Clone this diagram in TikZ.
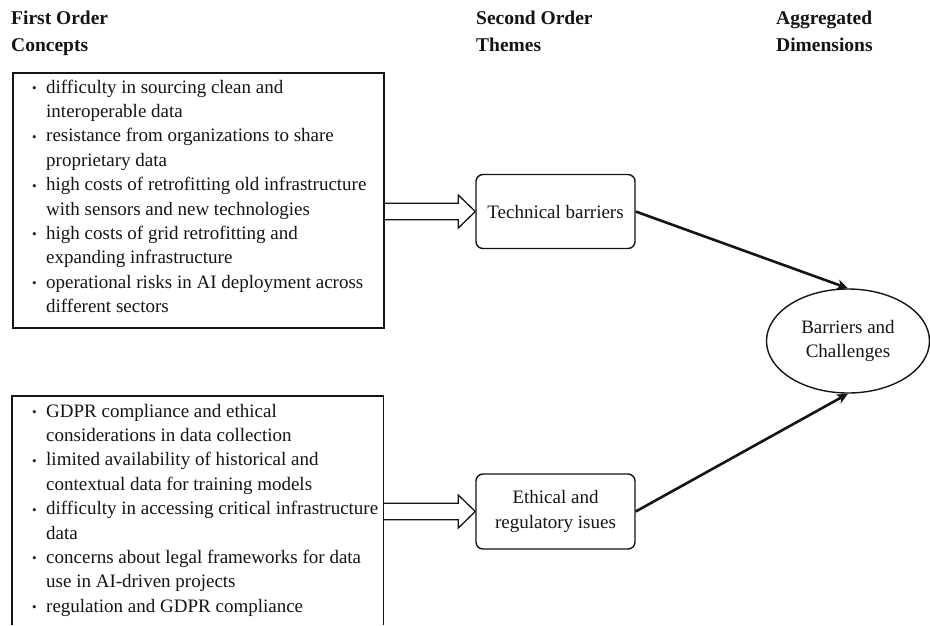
\documentclass[tikz,border=0pt]{standalone}
\usepackage{fontspec}
\setmainfont{Liberation Serif}
\usetikzlibrary{arrows.meta,shapes.geometric,calc}

\definecolor{ink}{HTML}{141414}

\newcommand{\smallbul}{\makebox[14pt][l]{\raisebox{0.5pt}{\fontsize{13}{13}\selectfont\textbullet}}}
\newcommand{\bodyfont}{\fontsize{19}{24.4}\selectfont}

\tikzset{
  header/.style={anchor=base west, inner sep=0pt, font=\fontsize{19.5}{24}\selectfont\bfseries, text=ink},
  listbox/.style={draw=ink, line width=1.5pt, anchor=north west, inner sep=0pt},
  listtext/.style={anchor=base west, inner sep=0pt, font=\bodyfont, text=ink},
  themebox/.style={draw=ink, line width=1.4pt, rounded corners=7pt, minimum width=159pt,
    align=center, font=\bodyfont, text=ink},
  dimbox/.style={draw=ink, line width=1.4pt, ellipse, minimum width=163pt, minimum height=104pt,
    inner sep=0pt, align=center, font=\bodyfont, text=ink},
  hollow/.style={draw=ink, line width=1.3pt, line join=miter},
  link/.style={draw=ink, line width=2.6pt, -{Stealth[length=11pt,width=10pt,inset=3pt]}}
}

\begin{document}
\begin{tikzpicture}[x=1pt,y=-1pt]
  \useasboundingbox (0,0) rectangle (930,625);

  % column headings
  \node[header] (h1a) at (11,24) {First Order};
  \node[header] (h1b) at (11,51.5) {Concepts};
  \node[header] (h2a) at (476,24) {Second Order};
  \node[header] (h2b) at (476,51.5) {Themes};
  \node[header] (h3a) at (776,24) {Aggregated};
  \node[header] (h3b) at (776,51.5) {Dimensions};

  % first order concepts: technical
  \node[listbox, minimum width=371pt, minimum height=255pt] (c1) at (12,72) {};
  \node[listtext] (c1t) at (32,93) {%
    \begin{tabular}[t]{@{}l@{}l@{}}
      \smallbul & difficulty in sourcing clean and \\
                & interoperable data \\
      \smallbul & resistance from organizations to share \\
                & proprietary data \\
      \smallbul & high costs of retrofitting old infrastructure \\
                & with sensors and new technologies \\
      \smallbul & high costs of grid retrofitting and \\
                & expanding infrastructure \\
      \smallbul & operational risks in AI deployment across \\
                & different sectors
    \end{tabular}};

  % first order concepts: ethical / regulatory (runs past the lower edge)
  \node[anchor=north west, minimum width=371pt, minimum height=229pt, inner sep=0pt] (c2) at (12,396) {};
  \draw[ink, line width=1.5pt] (c2.south west) -- (c2.north west) -- (c2.north east) -- (c2.south east);
  \node[listtext] (c2t) at (32,417) {%
    \begin{tabular}[t]{@{}l@{}l@{}}
      \smallbul & GDPR compliance and ethical \\
                & considerations in data collection \\
      \smallbul & limited availability of historical and \\
                & contextual data for training models \\
      \smallbul & difficulty in accessing critical infrastructure \\
                & data \\
      \smallbul & concerns about legal frameworks for data \\
                & use in AI-driven projects \\
      \smallbul & regulation and GDPR compliance
    \end{tabular}};

  % second order themes
  \node[themebox, minimum height=74pt] (t1) at (555.5,211.5) {Technical barriers};
  \node[themebox, minimum height=75pt] (t2) at (555.5,511.5) {Ethical and\\regulatory isues};

  % aggregated dimension
  \node[dimbox] (d1) at (848,341) {Barriers and\\Challenges};

  % hollow block arrows from concept lists to themes
  \foreach \src/\dst in {c1/t1, c2/t2} {
    \draw[hollow]
      ($(\src.east |- \dst.west)+(0,-8.3)$) -- ($(\dst.west)+(-17,-8.3)$) --
      ($(\dst.west)+(-17,-16.5)$) -- (\dst.west) --
      ($(\dst.west)+(-17,16.5)$) -- ($(\dst.west)+(-17,8.3)$) --
      ($(\src.east |- \dst.west)+(0,8.3)$);
  }

  % theme to dimension links
  \draw[link] (t1.east) -- (d1.north);
  \draw[link] (t2.east) -- (d1.south);
\end{tikzpicture}
\end{document}
